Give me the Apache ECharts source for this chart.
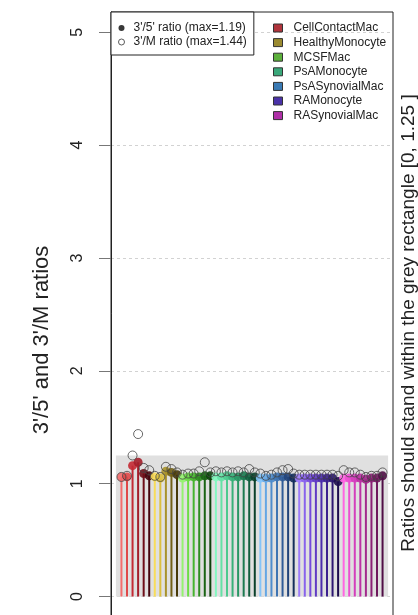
<!DOCTYPE html>
<html>
<head>
<meta charset="utf-8">
<script src="https://cdn.jsdelivr.net/npm/echarts@6/dist/echarts.min.js"></script>
<style>
  html, body { margin: 0; padding: 0; background: #fff; }
  #chart { width: 418px; height: 615px; }
</style>
</head>
<body>
<div id="chart"></div>
<script>
// Sample groups, in plotting order
const groups = ['CellContactMac', 'HealthyMonocyte', 'MCSFMac', 'PsAMonocyte',
                'PsASynovialMac', 'RAMonocyte', 'RASynovialMac'];

// 3'/5' ratio per array, one list per group
const ratio35 = [
  [1.06, 1.06, 1.16, 1.19, 1.09, 1.07],
  [1.06, 1.05, 1.11, 1.10, 1.08],
  [1.05, 1.06, 1.06, 1.06, 1.07, 1.07],
  [1.06, 1.06, 1.07, 1.06, 1.06, 1.07, 1.06, 1.06],
  [1.05, 1.05, 1.05, 1.06, 1.06, 1.06, 1.05],
  [1.05, 1.05, 1.05, 1.05, 1.05, 1.05, 1.05, 1.02],
  [1.05, 1.05, 1.05, 1.05, 1.04, 1.05, 1.05, 1.07]
];

// 3'/M ratio per array, one list per group
const ratio3M = [
  [1.06, 1.07, 1.25, 1.44, 1.14, 1.12],
  [1.07, 1.06, 1.15, 1.13, 1.10],
  [1.08, 1.09, 1.09, 1.11, 1.19, 1.10],
  [1.11, 1.10, 1.11, 1.10, 1.11, 1.10, 1.13, 1.10],
  [1.09, 1.07, 1.08, 1.10, 1.12, 1.13, 1.09],
  [1.08, 1.08, 1.08, 1.08, 1.08, 1.08, 1.08, 1.07],
  [1.12, 1.10, 1.10, 1.08, 1.06, 1.07, 1.07, 1.10]
];

// Accepted range for the ratios and y-axis ticks
const limitLow = 0;
const limitHigh = 1.25;
const yTicks = [0, 1, 2, 3, 4, 5];

// Colours: one key colour per group, shades light -> dark for its arrays
const groupColors = ['#b0343c', '#9a8a30', '#5cb03c', '#3aa87a', '#3a7ab4', '#4a32a8', '#b030a8'];
const groupShades = [
  ['#f46c6c', '#e04848', '#c42a34', '#a41e2a', '#6e0e18', '#46060e'],
  ['#f8dc58', '#dcc03e', '#a8922a', '#726016', '#483a08'],
  ['#94f270', '#6cdc46', '#46b42e', '#2e8c20', '#1a6414', '#0c420a'],
  ['#84f8c0', '#64e2a6', '#4cca8e', '#36b078', '#289664', '#1c7a50', '#125e3e', '#0a402a'],
  ['#84c4f8', '#64a6e4', '#4e8ccc', '#3e74b2', '#305c98', '#22447a', '#142e5a'],
  ['#9e7cfa', '#8862ec', '#744adc', '#603ac4', '#4c2cac', '#3c208e', '#2c1672', '#1c0c4e'],
  ['#ff66e2', '#ec4ed0', '#d43ebc', '#bc30a4', '#a2288c', '#8a2074', '#6e185c', '#500e46']
];

const FONT = '"Liberation Sans", Arial, Helvetica, sans-serif';

// Build per-array records
const stems = groups.map(() => []);
const dots35 = [];
const dots3M = [];
let idx = 0;
groups.forEach((g, gi) => {
  ratio35[gi].forEach((v, k) => {
    idx += 1;
    const color = groupShades[gi][k];
    stems[gi].push({ value: [idx, v], itemStyle: { color: color } });
    dots35.push({ value: [idx, v], itemStyle: { color: color } });
    dots3M.push({ value: [idx, ratio3M[gi][k]] });
  });
});
const nArrays = idx;

const max35 = Math.max(...ratio35.flat());
const max3M = Math.max(...ratio3M.flat());
const name35 = "3'/5' ratio (max=" + max35.toFixed(2) + ")";
const name3M = "3'/M ratio (max=" + max3M.toFixed(2) + ")";

// R-style 4% padding around the array positions
const xPad = 0.04 * (nArrays - 1);
const xMin = 1 - xPad;
const xMax = nArrays + xPad;
const yMin = -0.19;
const yMax = 5.18;

const stemSeries = groups.map((g, gi) => ({
  name: g,
  type: 'custom',
  z: 3,
  itemStyle: { color: groupColors[gi] },
  data: stems[gi],
  renderItem: function (params, api) {
    const x = api.value(0);
    const v = api.value(1);
    const p0 = api.coord([x, 0]);
    const p1 = api.coord([x, v]);
    return {
      type: 'line',
      shape: { x1: p0[0], y1: p0[1], x2: p1[0], y2: p1[1] },
      style: { stroke: api.visual('color'), lineWidth: 2 }
    };
  }
}));

const chart = echarts.init(document.getElementById('chart'), null, { renderer: 'canvas' });

chart.setOption({
  animation: false,
  backgroundColor: '#ffffff',
  grid: {
    left: 111, right: 25, top: 12, bottom: -3,
    outerBoundsMode: 'none', containLabel: false,
    show: true, borderColor: '#222', borderWidth: 1, backgroundColor: 'transparent'
  },
  xAxis: { type: 'value', min: xMin, max: xMax, show: false },
  yAxis: [
    {
      type: 'value', min: yMin, max: yMax, position: 'left',
      name: "3'/5' and 3'/M ratios",
      nameLocation: 'middle', nameRotate: 90, nameGap: 58,
      nameTextStyle: { fontFamily: FONT, fontSize: 22, color: '#222', padding: [0, 50, 0, 0] },
      axisLine: { show: true, onZero: false, lineStyle: { color: '#222', width: 1 } },
      axisTick: { show: true, customValues: yTicks, length: 12, lineStyle: { color: '#777' } },
      axisLabel: { customValues: yTicks, rotate: 90, margin: 25, fontFamily: FONT, fontSize: 16, color: '#222' },
      splitLine: { show: true, lineStyle: { color: '#d2d2d2', type: [3, 3], width: 1 } }
    },
    {
      type: 'value', min: yMin, max: yMax, position: 'right',
      name: 'Ratios should stand within the grey rectangle [' + limitLow + ', ' + limitHigh + ' ]',
      nameLocation: 'middle', nameRotate: 90, nameGap: 6,
      nameTextStyle: { fontFamily: FONT, fontSize: 19, color: '#222', verticalAlign: 'top', padding: [0, 16, 0, 0] },
      axisLine: { show: false, onZero: false }, axisTick: { show: false },
      axisLabel: { show: false }, splitLine: { show: false }
    }
  ],
  legend: [
    {
      left: 111, top: 12, orient: 'vertical',
      padding: [10, 7, 7, 7], itemGap: 2, itemWidth: 6, itemHeight: 6,
      borderColor: '#222', borderWidth: 1, backgroundColor: '#fff', borderRadius: 0,
      selectedMode: false,
      textStyle: { fontFamily: FONT, fontSize: 12, color: '#222', padding: [0, 0, 0, 4] },
      data: [
        { name: name35, icon: 'circle', itemStyle: { color: '#222', borderWidth: 0 } },
        { name: name3M, icon: 'circle', itemStyle: { color: '#fff', borderColor: '#333', borderWidth: 1 } }
      ]
    },
    {
      left: 273, top: 22, orient: 'vertical',
      padding: 0, itemGap: 2.6, itemWidth: 9, itemHeight: 8,
      selectedMode: false,
      textStyle: { fontFamily: FONT, fontSize: 12, color: '#222', padding: [0, 0, 0, 6] },
      data: groups.map((g, gi) => ({
        name: g, icon: 'rect',
        itemStyle: { color: groupColors[gi], borderColor: '#333', borderWidth: 1 }
      }))
    }
  ],
  series: [
    {
      name: 'limits', type: 'scatter', z: 1, data: [], silent: true,
      markArea: {
        silent: true,
        itemStyle: { color: '#e0e0e0' },
        data: [[{ xAxis: 0, yAxis: limitLow }, { xAxis: nArrays + 1, yAxis: limitHigh }]]
      }
    },
    ...stemSeries,
    {
      name: name35, type: 'scatter', z: 4, symbol: 'circle', symbolSize: 9,
      itemStyle: { color: '#222', opacity: 0.9 },
      data: dots35
    },
    {
      name: name3M, type: 'scatter', z: 5, symbol: 'circle', symbolSize: 9,
      itemStyle: { color: 'rgba(0,0,0,0)', borderColor: '#444', borderWidth: 1 },
      data: dots3M
    }
  ]
});
</script>
</body>
</html>
